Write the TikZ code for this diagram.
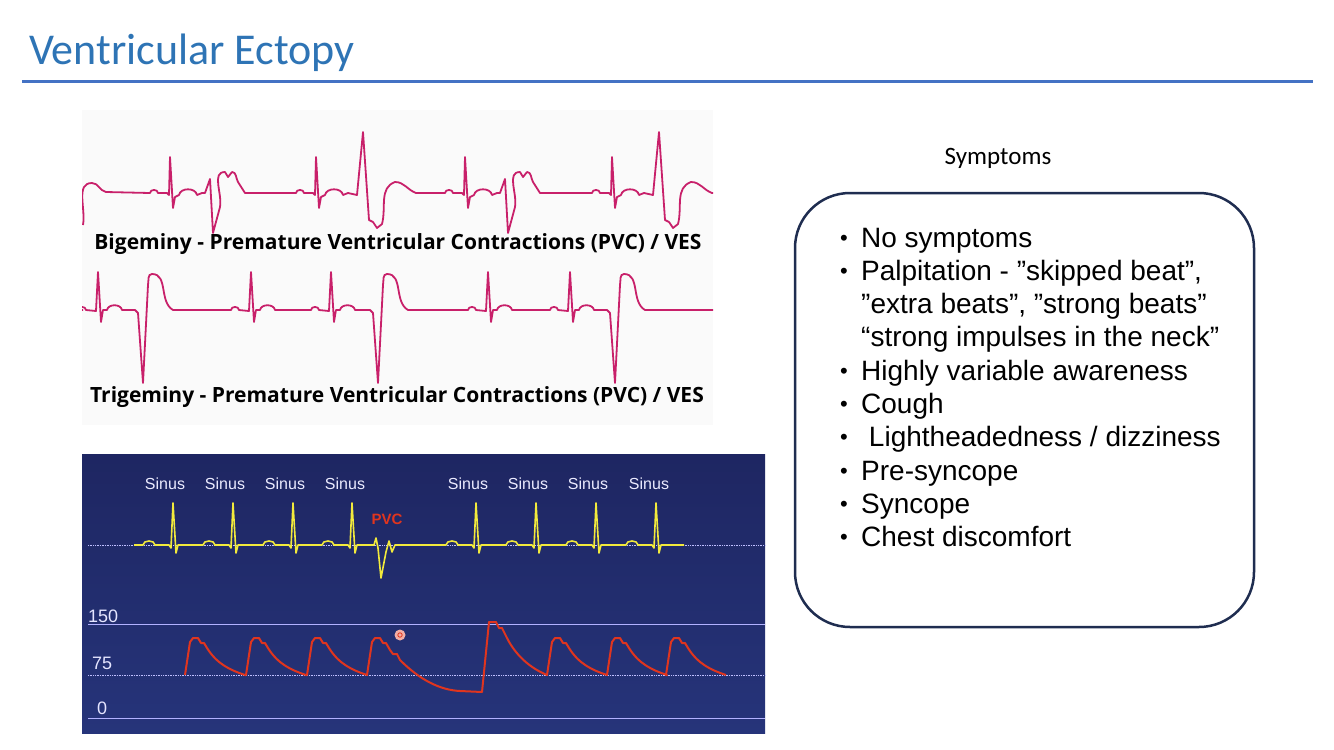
\documentclass[tikz,border=0pt]{standalone}
\usepackage{fontspec}
\setmainfont{Liberation Sans}
\newfontfamily\carl{Carlito}
\newfontfamily\osans{Open Sans}
\definecolor{ttl}{HTML}{2E74B5}
\definecolor{rule}{HTML}{4472C4}
\definecolor{pk}{HTML}{C8206A}
\definecolor{yl}{HTML}{F2EA3C}
\definecolor{rd}{HTML}{E0351E}
\definecolor{bx}{HTML}{1F2D50}
\newcommand\bgN[1]{-- ({#1-20},193) to[out=90,in=90,looseness=1.3] ({#1-12},193) -- ({#1-3},193) -- ({#1-1},195) -- (#1,157) -- ({#1+3},208) -- ({#1+5},197) -- ({#1+9},195) to[out=80,in=100,looseness=1.1] ({#1+27},195) -- ({#1+32},193)}
\newcommand\bgA[1]{-- ({#1+35},193) -- ({#1+40},179) -- ({#1+43},233) -- ({#1+50},207) to[out=80,in=180] ({#1+55},172) -- ({#1+58},177) -- ({#1+62},172) to[out=0,in=120] ({#1+68},182) -- ({#1+75},193)}
\newcommand\bgB[1]{-- ({#1+41},195) -- ({#1+47},132) -- ({#1+53},220) -- ({#1+57},222) -- ({#1+61},228) -- ({#1+66},224) to[out=75,in=200] ({#1+79},182) to[out=0,in=160] ({#1+100},193)}
\newcommand\tgN[1]{-- ({#1-20},310) to[out=90,in=90,looseness=1.3] ({#1-12},310) -- ({#1-2},311) -- (#1,272) -- ({#1+3},322) -- ({#1+5},310) -- ({#1+9},310) to[out=80,in=100,looseness=1.1] ({#1+24},310)}
\newcommand\tgP[1]{-- ({#1-8},310) -- ({#1-5},313) -- (#1,383) -- ({#1+5},285) to[out=80,in=180] ({#1+9},274) to[out=0,in=150] ({#1+30},310)}
\newcommand\ylN[1]{-- ({#1-30},545) to[out=90,in=90,looseness=1.15] ({#1-18},545) -- ({#1-4},545) -- ({#1-2},548) -- (#1,503) -- ({#1+3},553) -- ({#1+5},545)}
\newcommand\prW[1]{-- (#1,675) -- ({#1+5},642) -- ({#1+8},638) -- ({#1+13},638) -- ({#1+16},643) -- ({#1+19},643) -- ({#1+22},648) .. controls ({#1+32},664) and ({#1+45},670) .. ({#1+60},675)}
\begin{document}
\begin{tikzpicture}[x=1pt,y=-1pt,
  pkl/.style={pk,line width=1.8pt,line join=round},
  yll/.style={yl,line width=1.6pt,line join=round},
  rdl/.style={rd,line width=2pt,line join=round},
  lbl/.style={font=\osans\bfseries\fontsize{21}{23}\selectfont,inner sep=0},
  sin/.style={font=\fontsize{16}{18}\selectfont,text=white!92!blue,inner sep=0},
  ax/.style={font=\fontsize{18}{20}\selectfont,text=white!90!blue,inner sep=0,anchor=west},
  itm/.style={font=\fontsize{28}{30}\selectfont,anchor=base west,inner sep=0},
  bul/.style={font=\fontsize{22}{24}\selectfont,anchor=base west,inner sep=0}]
\useasboundingbox (0,0) rectangle (1334,750);
\fill[white] (0,0) rectangle (1334,750);
% title
\node[font=\carl\fontsize{44}{48}\selectfont,text=ttl,anchor=west,inner sep=0] (title) at (29,53) {Ventricular Ectopy};
\draw[rule,line width=3pt] (22,81) -- (1313,81);
% top ECG panel
\fill[black!2] (82,110) rectangle (713,425);
\begin{scope}
\clip (82,110) rectangle (713,425);
\draw[pkl] (83,225) to[out=80,in=180] (92,183) to[out=0,in=170] (106,192) \bgN{170}\bgA{170}\bgN{316}\bgB{316}\bgN{465}\bgA{465}\bgN{612}\bgB{612} -- (713,193);
\draw[pkl] (83,310) \tgN{98}\tgP{143}\tgN{251}\tgN{331}\tgP{378}\tgN{488}\tgN{570}\tgP{615} -- (713,310);
\end{scope}
\node[lbl] (big) at (398,244) {Bigeminy - Premature Ventricular Contractions (PVC) / VES};
\node[lbl] (tri) at (397,397) {Trigeminy - Premature Ventricular Contractions (PVC) / VES};
% bottom panel
\shade[top color={rgb,255:red,30;green,38;blue,98},bottom color={rgb,255:red,38;green,52;blue,122}] (82,454) rectangle (765,733);
\draw[white!75!blue,densely dotted,line width=0.7pt] (88,545) -- (765,545);
\draw[white!70!blue,line width=0.8pt] (88,624) -- (765,624);
\draw[white!75!blue,densely dotted,line width=0.7pt] (88,675) -- (765,675);
\draw[white!70!blue,line width=0.8pt] (88,718) -- (765,718);
\foreach \x [count=\i] in {165,225,285,345,468,528,588,649}
  \node[sin] (s\i) at (\x,484) {Sinus};
\node[font=\bfseries\fontsize{15}{17}\selectfont,text=rd,inner sep=0] (pvc) at (387,519) {PVC};
\node[ax] (a150) at (88,616) {150};
\node[ax] (a75) at (92,663) {75};
\node[ax] (a0) at (97,708) {0};
\draw[yll] (134,545) \ylN{173}\ylN{233}\ylN{293}\ylN{352} -- (374,545) -- (376,538) -- (378,548) -- (381,578) -- (386,552) -- (389,541) -- (392,552) -- (395,545) \ylN{476}\ylN{536}\ylN{596}\ylN{656} -- (684,545);
\draw[rdl] (185,675) \prW{185}\prW{246}\prW{307} -- (367,675) -- (372,642) -- (375,638) -- (380,638) -- (383,643) -- (386,643) -- (390,650) -- (393,654) -- (397,654) -- (400,660) .. controls (420,680) and (440,690) .. (460,691) -- (482,692) -- (489,622) -- (496,622) -- (499,628) -- (502,628) -- (506,636) .. controls (515,655) and (530,668) .. (547,675) \prW{547}\prW{607}\prW{666};
\fill[rd!40] (400,635) circle (5.5);
\draw[rd,line width=0.8pt] (400,635) circle (2.2);
% symptoms
\node[font=\carl\fontsize{25}{28}\selectfont,inner sep=0] (symt) at (998,158) {Symptoms};
\draw[bx,line width=2.5pt,rounded corners=55pt] (795,193) rectangle (1254,627);
\node[itm] (i1) at (861,247) {No symptoms};
\node[itm] (i2) at (861,280) {Palpitation - ”skipped beat”,};
\node[itm] (i2b) at (861,313) {”extra beats”, ”strong beats”};
\node[itm] (i2c) at (861,346) {“strong impulses in the neck”};
\node[itm] (i3) at (861,380) {Highly variable awareness};
\node[itm] (i4) at (861,413) {Cough};
\node[itm] (i5) at (861,446) {\ Lightheadedness / dizziness};
\node[itm] (i6) at (861,480) {Pre-syncope};
\node[itm] (i7) at (861,513) {Syncope};
\node[itm] (i8) at (861,546) {Chest discomfort};
\foreach \y [count=\i] in {245,278,378,411,444,478,511,544}
  \node[bul] (b\i) at (840,\y) {•};
\end{tikzpicture}
\end{document}
